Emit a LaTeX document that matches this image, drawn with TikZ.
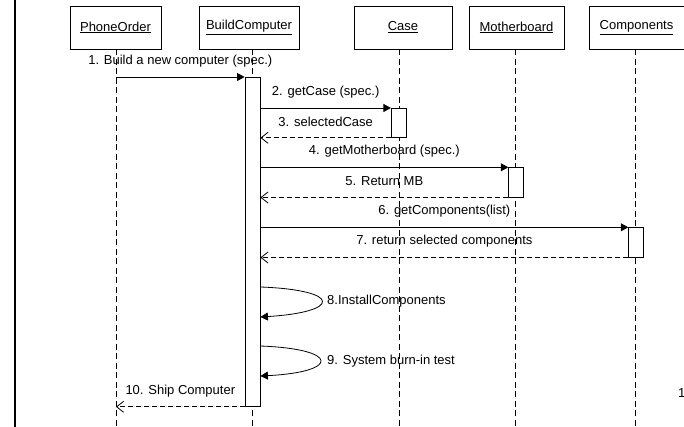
\documentclass[tikz,border=0pt]{standalone}
\usepackage{fontspec}
\setmainfont{Liberation Sans}
\usetikzlibrary{arrows.meta}

\tikzset{
  objbox/.style={draw, line width=0.8pt, minimum height=43pt, inner sep=0pt, font=\fontsize{13}{15}\selectfont},
  actbox/.style={draw, fill=white, line width=0.8pt, minimum width=15pt, inner sep=0pt, anchor=north},
  lifeline/.style={line width=0.8pt, dash pattern=on 6pt off 3.5pt},
  call/.style={line width=0.8pt, -{Triangle[length=7.5pt,width=8pt]}},
  reply/.style={line width=0.8pt, dash pattern=on 5pt off 3pt, -{Straight Barb[length=7pt,width=11pt]}},
  msg/.style={font=\fontsize{13}{15}\selectfont, midway, yshift=16pt},
  lbl/.style={font=\fontsize{13}{15}\selectfont, anchor=west, inner sep=0pt},
}

\begin{document}
\begin{tikzpicture}[x=1pt,y=-1pt]
      \useasboundingbox (0,0) rectangle (684,427);
      \draw[line width=2.5pt] (15,0) -- (15,427);

      % objects
      \node[objbox, minimum width=91pt] (po) at (115.5,27.5) {\underline{PhoneOrder}};
      \node[objbox, minimum width=100pt] (bc) at (249,27.5) {\underline{BuildComputer}};
      \node[objbox, minimum width=98pt] (case) at (403,27.5) {\underline{Case}};
      \node[objbox, minimum width=95pt] (mb) at (516.5,27.5) {\underline{Motherboard}};
      \node[objbox, minimum width=95pt] (comp) at (636.5,27.5) {\underline{Components}};

      % lifelines
      \draw[lifeline] ([xshift=0.5pt]po.south) -- ++(0,378);
      \draw[lifeline] ([xshift=3pt]bc.south) -- ++(0,378);
      \draw[lifeline] ([xshift=-3.7pt]case.south) -- ++(0,378);
      \draw[lifeline] ([xshift=-1.2pt]mb.south) -- ++(0,378);
      \draw[lifeline] ([xshift=-1.2pt]comp.south) -- ++(0,378);

      % activations
      \node[actbox, minimum height=329pt] (bcAct) at (252.5,77) {};
      \node[actbox, minimum height=29pt] (caseAct) at (398.8,108) {};
      \node[actbox, minimum height=29.4pt] (mbAct) at (516.2,167.3) {};
      \node[actbox, minimum height=29.4pt] (compAct) at (636.2,227.3) {};

      % messages
      \draw[call] ([xshift=0.5pt]po.south |- bcAct.north) -- node[msg] {1. Build a new computer (spec.)} (bcAct.north west);
      \draw[call] (bcAct.east |- caseAct.north) -- node[msg] {2. getCase (spec.)} (caseAct.north west);
      \draw[reply] (caseAct.south west) -- node[msg] {3. selectedCase} (bcAct.east |- caseAct.south);
      \draw[call] (bcAct.east |- mbAct.north) -- node[msg] {4. getMotherboard (spec.)} (mbAct.north west);
      \draw[reply] (mbAct.south west) -- node[msg] {5. Return MB} (bcAct.east |- mbAct.south);
      \draw[call] (bcAct.east |- compAct.north) -- node[msg] {6. getComponents(list)} (compAct.north west);
      \draw[reply] (compAct.south west) -- node[msg] {7. return selected components} (bcAct.east |- compAct.south);

      \draw[call] (bcAct.east |- 0,287) .. controls (342,290) and (342,312) .. (bcAct.east |- 0,317);
      \node[lbl] (l8) at (327,301) {8.InstallComponents};
      \draw[call] (bcAct.east |- 0,346) .. controls (340,349) and (340,372) .. (bcAct.east |- 0,376);
      \node[lbl] (l9) at (327,361) {9. System burn-in test};

      \draw[reply] (bcAct.south west) -- node[msg] {10. Ship Computer} ([xshift=0.5pt]po.south |- bcAct.south);
      \node[lbl] (pg) at (678,393) {1};
    \end{tikzpicture}
\end{document}
